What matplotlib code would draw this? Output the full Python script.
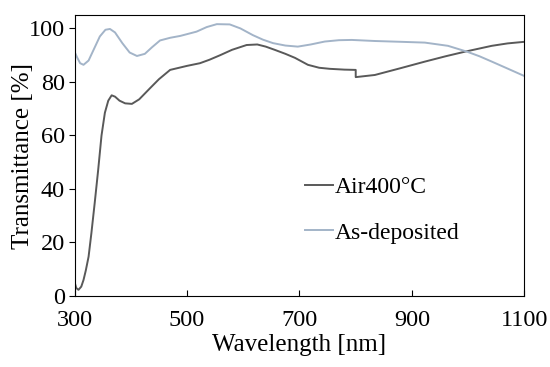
import numpy as np
import matplotlib.pyplot as plt

plt.rcParams['font.family'] = ['Liberation Serif', 'DejaVu Serif']

# Air400°C
air_wl = [300, 303, 307, 312, 316, 320, 325, 330, 336, 342, 348, 354, 360, 366, 372,
          380, 390, 402, 415, 434, 450, 470, 500, 523, 540, 559, 580, 606, 625, 640,
          656, 675, 692, 715, 735, 754, 780, 800, 800, 834, 879, 923, 960, 994, 1042,
          1070, 1100]
air_t = [5.3, 3.0, 2.3, 3.5, 6.0, 9.5, 14.7, 23.5, 35.0, 47.0, 60.0, 68.5, 73.0, 75.0, 74.5,
         73.0, 72.0, 71.8, 73.5, 77.6, 81.0, 84.5, 86.0, 87.0, 88.3, 90.0, 92.0, 93.8, 94.0, 93.2,
         92.0, 90.5, 89.0, 86.4, 85.3, 84.9, 84.6, 84.5, 81.8, 82.6, 85.1, 87.6, 89.6, 91.3, 93.5,
         94.4, 95.0]

# As-deposited
asd_wl = [300, 305, 310, 316, 325, 335, 345, 355, 363, 372, 385, 398, 411, 425, 438,
          452, 470, 488, 517, 535, 553, 576, 595, 617, 635, 653, 675, 697, 720, 745,
          770, 793, 834, 880, 923, 964, 998, 1020, 1042, 1070, 1100]
asd_t = [91.3, 89.0, 87.0, 86.4, 88.0, 92.5, 97.0, 99.5, 99.8, 98.5, 94.5, 91.0, 89.7, 90.5, 93.0,
         95.5, 96.5, 97.2, 98.8, 100.5, 101.6, 101.5, 100.0, 97.5, 95.8, 94.5, 93.6, 93.2, 94.0, 95.1,
         95.6, 95.7, 95.3, 95.0, 94.7, 93.5, 91.3, 89.6, 87.6, 85.0, 82.2]

fig = plt.figure(figsize=(5.5, 3.67), dpi=100)
ax = fig.add_axes([0.1355, 0.1935, 0.818, 0.7655])

ax.plot(air_wl, air_t, color='#595959', lw=1.4, label='Air400°C')
ax.plot(asd_wl, asd_t, color='#a3b4c8', lw=1.4, label='As-deposited')

ax.set_xlim(300, 1100)
ax.set_ylim(0, 105)
ax.set_xticks([300, 500, 700, 900, 1100])
ax.set_yticks([0, 20, 40, 60, 80, 100])
ax.tick_params(axis='x', direction='in', length=4, labelsize=17.5, pad=10)
ax.tick_params(axis='y', direction='out', length=4, labelsize=17.5, pad=3)
ax.set_xlabel('Wavelength [nm]', fontsize=18, labelpad=2)
ax.set_ylabel('Transmittance [%]', fontsize=18, labelpad=-4)

ax.legend(loc='center left', bbox_to_anchor=(0.487, 0.305), frameon=False, fontsize=17,
          handlelength=1.15, handletextpad=0.1, labelspacing=1.0, borderpad=0)

fig.savefig('out.png', dpi=100)
